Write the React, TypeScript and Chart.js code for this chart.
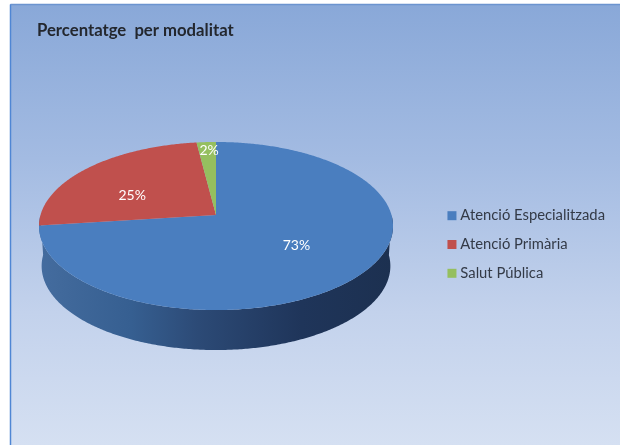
import React, { useEffect, useRef } from "react";
import { Chart, registerables } from "chart.js";

Chart.register(...registerables);

const categories = ["Atenció Especialitzada", "Atenció Primària", "Salut Pública"];
const shares = [73, 25, 2];
const colours = ["#4a7ebf", "#c0504d", "#95bf5f"];
const titleText = "Percentatge  per modalitat";
const FONT = "Lato, Carlito, Calibri, sans-serif";

// Perspective of the tilted disc
const APEX_X = 216;
const APEX_Y = 215;
const RX = 175.5;
const RY = 82.6;
const TILT = 0.131;
const DEPTH = 40;
const BOTTOM_SHRINK = 0.985;

const project = (a: number, r = 1, bottom = false) => {
  const u = r * Math.cos(a);
  const v = r * Math.sin(a);
  const w = 1 - TILT * v;
  const k = bottom ? BOTTOM_SHRINK : 1;
  return { x: APEX_X + (RX * k * u) / w, y: APEX_Y + (RY * v) / w + (bottom ? DEPTH : 0) };
};

const shade = (hex: string, m: number[]) => {
  const n = parseInt(hex.slice(1), 16);
  const c = [(n >> 16) & 255, (n >> 8) & 255, n & 255];
  return `rgb(${c.map((x, i) => Math.round(x * m[i])).join(",")})`;
};

const frame = {
  id: "frame",
  beforeDraw(chart: any) {
    const { ctx, width, height } = chart;
    ctx.save();
    ctx.fillStyle = "#ffffff";
    ctx.fillRect(0, 0, width, height);
    const g = ctx.createLinearGradient(0, 4, 0, height);
    g.addColorStop(0, "#89a8d8");
    g.addColorStop(0.35, "#a3bbe2");
    g.addColorStop(0.7, "#c3d2ec");
    g.addColorStop(1, "#d5e0f2");
    ctx.fillStyle = g;
    ctx.fillRect(10, 4, width - 10, height - 4);
    ctx.lineWidth = 1.5;
    ctx.strokeStyle = "#4f86d4";
    ctx.beginPath();
    ctx.moveTo(10.5, height);
    ctx.lineTo(10.5, 4.5);
    ctx.stroke();
    ctx.strokeStyle = "#6c94cf";
    ctx.beginPath();
    ctx.moveTo(10.5, 4.5);
    ctx.lineTo(width, 4.5);
    ctx.stroke();
    ctx.restore();
  },
};

const disc = {
  id: "disc",
  beforeDatasetsDraw(chart: any) {
    const { ctx } = chart;
    const arcs = chart.getDatasetMeta(0).data;
    const step = 0.01;
    ctx.save();
    // The visible wall takes the colour of the slice at the front of the disc
    const front = arcs.findIndex((arc: any) => arc.startAngle <= Math.PI / 2 && arc.endAngle >= Math.PI / 2);
    const g = ctx.createLinearGradient(39, 0, 393, 0);
    g.addColorStop(0, shade(colours[front], [0.92, 0.86, 0.83]));
    g.addColorStop(0.06, shade(colours[front], [0.88, 0.83, 0.81]));
    g.addColorStop(0.26, shade(colours[front], [0.73, 0.75, 0.76]));
    g.addColorStop(0.45, shade(colours[front], [0.6, 0.59, 0.62]));
    g.addColorStop(0.74, shade(colours[front], [0.42, 0.42, 0.47]));
    g.addColorStop(1, shade(colours[front], [0.38, 0.38, 0.42]));
    ctx.fillStyle = g;
    ctx.beginPath();
    for (let a = 0; a < Math.PI; a += step) {
      const p = project(a);
      ctx.lineTo(p.x, p.y);
    }
    for (let a = Math.PI; a > 0; a -= step) {
      const p = project(a, 1, true);
      ctx.lineTo(p.x, p.y);
    }
    ctx.closePath();
    ctx.fill();
    arcs.forEach((arc: any, i: number) => {
      ctx.fillStyle = colours[i];
      ctx.beginPath();
      const c = project(0, 0);
      ctx.moveTo(c.x, c.y);
      for (let a = arc.startAngle; a < arc.endAngle; a += step) {
        const p = project(a);
        ctx.lineTo(p.x, p.y);
      }
      const end = project(arc.endAngle);
      ctx.lineTo(end.x, end.y);
      ctx.closePath();
      ctx.fill();
    });
    ctx.restore();
    return false;
  },
};

const labelPlacement = [
  { r: 0.58, dx: 0, dy: -3 },
  { r: 0.58, dx: -7, dy: 9 },
  { r: 0.9, dx: 2, dy: 2 },
];

const pctLabels = {
  id: "pctLabels",
  afterDraw(chart: any) {
    const { ctx } = chart;
    ctx.save();
    ctx.fillStyle = "#ffffff";
    ctx.font = `14px ${FONT}`;
    ctx.textAlign = "center";
    ctx.textBaseline = "middle";
    chart.getDatasetMeta(0).data.forEach((arc: any, i: number) => {
      const mid = (arc.startAngle + arc.endAngle) / 2;
      const place = labelPlacement[i];
      const p = project(mid, place.r);
      ctx.fillText(`${shares[i]}%`, p.x + place.dx, p.y + place.dy);
    });
    ctx.restore();
  },
};

export default function App() {
  const ref = useRef<HTMLCanvasElement | null>(null);
  useEffect(() => {
    if (!ref.current) return;
    const chart = new Chart(ref.current, {
      type: "pie",
      data: {
        labels: categories,
        datasets: [{ data: shares, backgroundColor: colours, borderWidth: 0 }],
      },
      options: {
        animation: false,
        responsive: false,
        layout: { padding: { left: 37, top: 44, right: 5, bottom: 0 } },
        plugins: {
          title: {
            display: true,
            text: titleText,
            align: "start",
            color: "#23272e",
            font: { family: FONT, size: 16.7, weight: "bold" },
            padding: { top: -23, bottom: 30 },
          },
          legend: {
            position: "right",
            labels: {
              usePointStyle: true,
              pointStyle: "rect",
              boxWidth: 2,
              boxHeight: 9,
              padding: 14,
              color: "#333a47",
              font: { family: FONT, size: 14.8 },
            },
          },
          tooltip: { enabled: false },
        },
      },
      plugins: [frame, disc, pctLabels],
    } as any);
    return () => chart.destroy();
  }, []);
  return (
    <canvas
      ref={ref}
      width={620}
      height={445}
      style={{ position: "fixed", left: 0, top: 0, width: 620, height: 445, display: "block" }}
    />
  );
}
